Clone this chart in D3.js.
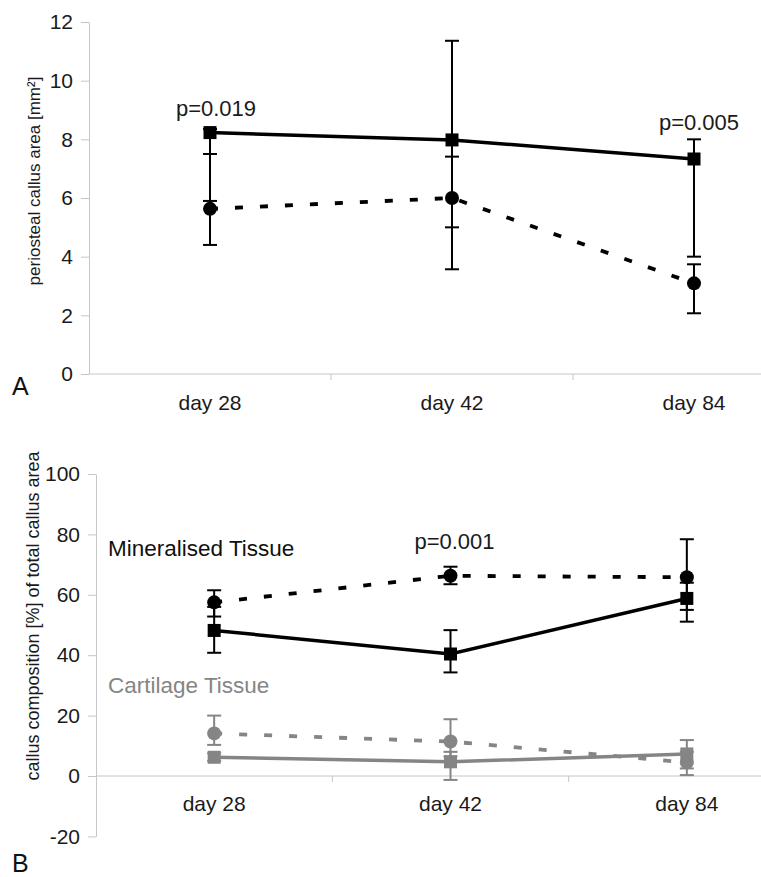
<!DOCTYPE html>
<html>
<head>
<meta charset="utf-8">
<script src="https://cdn.jsdelivr.net/npm/d3@7/dist/d3.min.js"></script>
<style>
  html, body { margin: 0; padding: 0; background: #fff; }
  svg { display: block; font-family: "Liberation Sans", Arial, sans-serif; }
</style>
</head>
<body>
<svg id="chart" width="761" height="877"></svg>
<script>
// ---------- data ----------
const days = ["day 28", "day 42", "day 84"];
const yTicksA = [0, 2, 4, 6, 8, 10, 12];
const yTicksB = [-20, 0, 20, 40, 60, 80, 100];

// Panel A: periosteal callus area [mm²]
const areaSqMean = [8.23, 7.98, 7.33];
const areaSqLow  = [5.9, 5.0, 4.0];
const areaSqHigh = [8.35, 11.36, 8.0];
const areaCiMean = [5.63, 6.0, 3.09];
const areaCiLow  = [4.4, 3.57, 2.07];
const areaCiHigh = [7.5, 7.41, 3.74];

// Panel B: callus composition [%]
const minCiMean = [57.5, 66.3, 65.8];
const minCiLow  = [52.8, 63.5, 55.0];
const minCiHigh = [61.5, 69.3, 78.4];
const minSqMean = [48.2, 40.4, 58.8];
const minSqLow  = [40.8, 34.3, 51.1];
const minSqHigh = [56.0, 48.3, 64.0];
const carCiMean = [14.1, 11.4, 4.5];
const carCiLow  = [10.3, 6.5, 0.3];
const carCiHigh = [20.0, 18.8, 8.0];
const carSqMean = [6.2, 4.7, 7.3];
const carSqLow  = [5.0, -1.3, 2.5];
const carSqHigh = [7.5, 8.0, 11.9];

const pLabelsA = [{day: "day 28", text: "p=0.019"}, {day: "day 84", text: "p=0.005"}];
const pLabelsB = [{day: "day 42", text: "p=0.001"}];

// ---------- helpers ----------
const svg = d3.select("#chart");
const BLACK = "#000";
const GRAY = "#858585";
const AXIS = "#c6c6c6";

function rows(mean, low, high) {
  return days.map((d, i) => ({day: d, v: mean[i], lo: low[i], hi: high[i]}));
}

function drawPanel(g, x, y, yTicks, series, axisY, labelY) {
  // y axis
  const ya = d3.axisLeft(y).tickValues(yTicks).tickFormat(d => String(d))
    .tickSize(8).tickSizeOuter(0).tickPadding(8);
  const yg = g.append("g").attr("transform", `translate(${x.range()[0]},0)`).call(ya);
  yg.select(".domain").attr("stroke", AXIS);
  yg.selectAll(".tick line").attr("stroke", AXIS);
  yg.selectAll(".tick text").attr("fill", "#1a1a1a").attr("font-size", 21)
    .attr("font-family", "Liberation Sans, Arial, sans-serif");

  // x axis line + boundary ticks
  const y0 = y(axisY);
  g.append("line").attr("x1", x.range()[0]).attr("x2", 761)
    .attr("y1", y0).attr("y2", y0).attr("stroke", AXIS).attr("stroke-width", 1);
  g.selectAll(".xb").data(days.slice(0, 2)).enter().append("line")
    .attr("x1", d => x(d) + x.bandwidth()).attr("x2", d => x(d) + x.bandwidth())
    .attr("y1", y0).attr("y2", y0 + 6).attr("stroke", AXIS);
  g.selectAll(".xl").data(days).enter().append("text")
    .attr("x", d => x(d) + x.bandwidth() / 2).attr("y", labelY)
    .attr("text-anchor", "middle").attr("font-size", 21).attr("fill", "#1a1a1a")
    .text(d => d);

  const cx = d => x(d) + x.bandwidth() / 2;
  const line = d3.line().x(d => cx(d.day)).y(d => y(d.v));

  // lines
  series.forEach(s => {
    g.append("path").datum(s.data).attr("d", line)
      .attr("fill", "none").attr("stroke", s.color)
      .attr("stroke-width", s.dashed ? 3.8 : 3.5)
      .attr("stroke-dasharray", s.dashed ? "8,17" : null);
  });
  // error bars
  series.forEach(s => {
    const eb = g.append("g").attr("stroke", s.color).attr("stroke-width", 2);
    s.data.forEach(d => {
      eb.append("line").attr("x1", cx(d.day)).attr("x2", cx(d.day))
        .attr("y1", y(d.lo)).attr("y2", y(d.hi));
      [d.lo, d.hi].forEach(v => {
        eb.append("line").attr("x1", cx(d.day) - 7).attr("x2", cx(d.day) + 7)
          .attr("y1", y(v)).attr("y2", y(v));
      });
    });
  });
  // markers
  series.forEach(s => {
    s.data.forEach(d => {
      if (s.marker === "square") {
        g.append("rect").attr("x", cx(d.day) - 6.5).attr("y", y(d.v) - 6.5)
          .attr("width", 13).attr("height", 13).attr("fill", s.color);
      } else {
        g.append("circle").attr("cx", cx(d.day)).attr("cy", y(d.v))
          .attr("r", 7).attr("fill", s.color);
      }
    });
  });
  return cx;
}

// ---------- Panel A ----------
const gA = svg.append("g");
const xA = d3.scaleBand().domain(days).range([89, 815]);
const yA = d3.scaleLinear().domain([0, 12]).range([374, 22]);
const cxA = drawPanel(gA, xA, yA, yTicksA, [
  {data: rows(areaCiMean, areaCiLow, areaCiHigh), color: BLACK, dashed: true, marker: "circle"},
  {data: rows(areaSqMean, areaSqLow, areaSqHigh), color: BLACK, dashed: false, marker: "square"}
], 0, 410);

gA.append("text").attr("transform", "translate(40,181) rotate(-90)")
  .attr("text-anchor", "middle").attr("font-size", 17).attr("fill", "#1a1a1a")
  .text("periosteal callus area [mm²]");
gA.append("text").attr("x", 12).attr("y", 395).attr("font-size", 25).attr("fill", "#111").text("A");

const pOffA = {"day 28": [6, 116], "day 84": [5, 130]};
gA.selectAll(".pA").data(pLabelsA).enter().append("text")
  .attr("x", d => cxA(d.day) + pOffA[d.day][0]).attr("y", d => pOffA[d.day][1])
  .attr("text-anchor", "middle").attr("font-size", 22).attr("fill", "#1a1a1a")
  .text(d => d.text);

// ---------- Panel B ----------
const gB = svg.append("g");
const xB = d3.scaleBand().domain(days).range([96, 805]);
const yB = d3.scaleLinear().domain([-20, 100]).range([836.4, 474]);
const cxB = drawPanel(gB, xB, yB, yTicksB, [
  {data: rows(carCiMean, carCiLow, carCiHigh), color: GRAY, dashed: true, marker: "circle"},
  {data: rows(carSqMean, carSqLow, carSqHigh), color: GRAY, dashed: false, marker: "square"},
  {data: rows(minCiMean, minCiLow, minCiHigh), color: BLACK, dashed: true, marker: "circle"},
  {data: rows(minSqMean, minSqLow, minSqHigh), color: BLACK, dashed: false, marker: "square"}
], 0, 811);

gB.append("text").attr("transform", "translate(39,616) rotate(-90)")
  .attr("text-anchor", "middle").attr("font-size", 18).attr("fill", "#1a1a1a")
  .text("callus composition [%] of total callus area");
gB.append("text").attr("x", 12).attr("y", 872).attr("font-size", 25).attr("fill", "#111").text("B");

gB.append("text").attr("x", 108).attr("y", 556).attr("font-size", 22.5).attr("fill", "#111")
  .text("Mineralised Tissue");
gB.append("text").attr("x", 108).attr("y", 693).attr("font-size", 22.5).attr("fill", GRAY)
  .text("Cartilage Tissue");

gB.selectAll(".pB").data(pLabelsB).enter().append("text")
  .attr("x", d => cxB(d.day) + 4).attr("y", 549)
  .attr("text-anchor", "middle").attr("font-size", 22).attr("fill", "#1a1a1a")
  .text(d => d.text);
</script>
</body>
</html>
